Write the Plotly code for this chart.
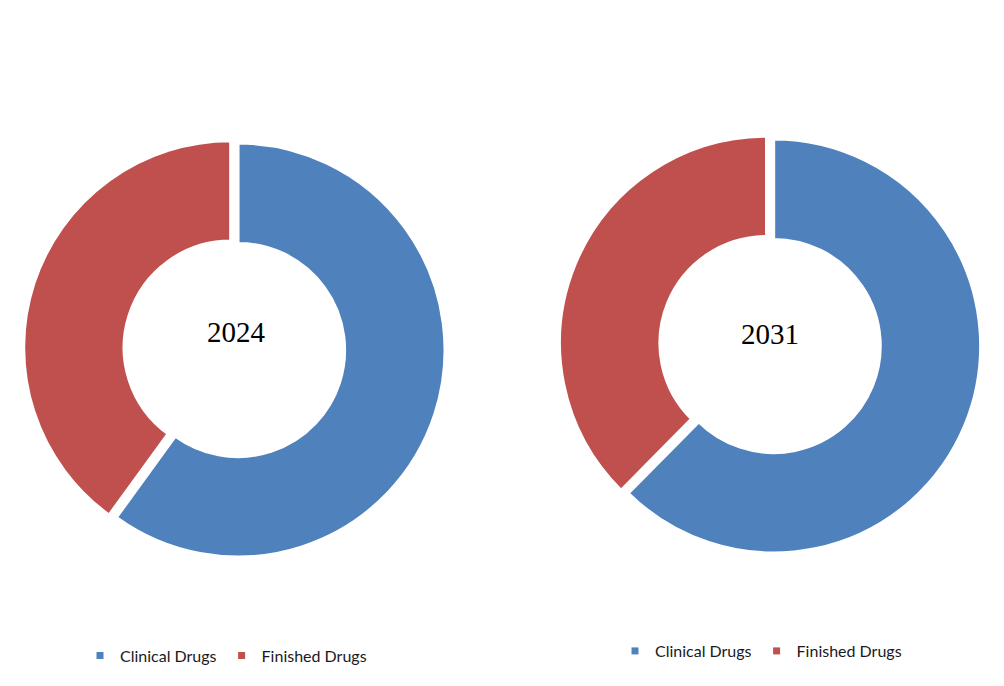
import plotly.graph_objects as go

# ---- data ----
categories = ["Clinical Drugs", "Finished Drugs"]
share_2024 = [60.0, 40.0]
share_2031 = [62.4, 37.6]
years = ["2024", "2031"]
colors = ["#4F81BD", "#C0504D"]

W, H = 1004, 686

fig = go.Figure()

pie_common = dict(
    labels=categories,
    hole=0.515,
    pull=[0, 0.0375],
    sort=False,
    direction="clockwise",
    rotation=0,
    textinfo="none",
    hoverinfo="label+percent",
    marker=dict(colors=colors, line=dict(color="white", width=3)),
    showlegend=False,
)

fig.add_trace(go.Pie(values=share_2024, name=years[0],
                     domain=dict(x=[0.0232, 0.4510], y=[0.1768, 0.8028]), **pie_common))
fig.add_trace(go.Pie(values=share_2031, name=years[1],
                     domain=dict(x=[0.5567, 0.9845], y=[0.1826, 0.8086]), **pie_common))

# legend entries (small square swatches), one legend per donut
for lg in ["legend", "legend2"]:
    for cat, col in zip(categories, colors):
        fig.add_trace(go.Scatter(
            x=[None], y=[None], mode="markers", name=cat,
            marker=dict(symbol="square", size=7, color=col),
            legend=lg, showlegend=True, hoverinfo="skip",
        ))

legend_font = dict(family="Lato, Carlito, Calibri, sans-serif", size=16, color="#1a1a1a")

fig.update_layout(
    width=W, height=H,
    margin=dict(l=0, r=0, t=0, b=0),
    paper_bgcolor="white",
    plot_bgcolor="white",
    xaxis=dict(visible=False),
    yaxis=dict(visible=False),
    legend=dict(orientation="h", x=80 / W, xanchor="left", y=1 - 655.7 / H, yanchor="middle",
                font=legend_font, bgcolor="rgba(0,0,0,0)"),
    legend2=dict(orientation="h", x=615 / W, xanchor="left", y=1 - 651 / H, yanchor="middle",
                 font=legend_font, bgcolor="rgba(0,0,0,0)"),
    annotations=[
        dict(text=years[0], x=236 / W, y=1 - 332 / H, xref="paper", yref="paper",
             showarrow=False, xanchor="center", yanchor="middle",
             font=dict(family="Liberation Serif, Times New Roman, serif", size=29, color="black")),
        dict(text=years[1], x=770 / W, y=1 - 334 / H, xref="paper", yref="paper",
             showarrow=False, xanchor="center", yanchor="middle",
             font=dict(family="Liberation Serif, Times New Roman, serif", size=29, color="black")),
    ],
)

fig.write_html("out.html",
               config={"displayModeBar": False},
               post_script="document.body.style.margin='0';document.body.style.overflow='hidden';")
